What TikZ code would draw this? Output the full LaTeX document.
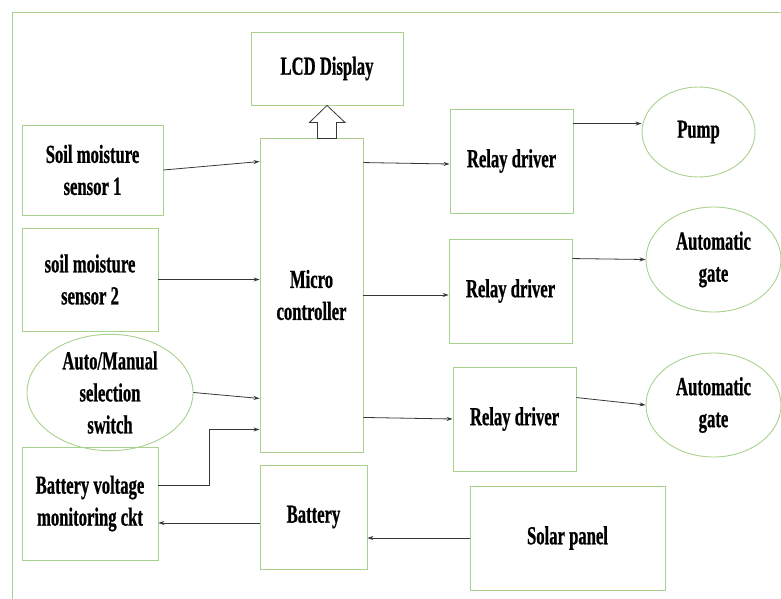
\documentclass[tikz,border=0pt]{standalone}
\usepackage{fontspec}
\newfontfamily\blockfont[FakeStretch=0.64, BoldFeatures={FakeBold=0.8}]{Liberation Serif}
\usetikzlibrary{calc,arrows.meta,shapes.geometric}
\definecolor{boxgreen}{RGB}{169,209,142}
\definecolor{linkgray}{RGB}{55,55,55}
\tikzset{
  blk/.style={draw=boxgreen, line width=0.9pt, inner sep=0pt, align=center,
    font=\blockfont\bfseries\fontsize{26}{32}\selectfont},
  oval/.style={blk, ellipse},
  link/.style={draw=linkgray, line width=0.8pt, -{Stealth[length=6pt,width=4pt]}},
}
\begin{document}
\begin{tikzpicture}[x=1pt,y=-1pt]
        \useasboundingbox (0,0) rectangle (781,599);
        \draw[boxgreen, line width=0.9pt] (12,599) -- (12,12) -- (781,12);   % frame

        % blocks
        \node[blk, minimum width=152pt, minimum height=73pt] (lcd) at (327,68.5) {LCD Display};
        \node[blk, minimum width=103pt, minimum height=314pt] (mc) at (311.5,295) {Micro\\controller};
        \node[blk, minimum width=141pt, minimum height=90pt] (s1) at (92.5,170) {Soil moisture\\sensor 1};
        \node[blk, minimum width=136pt, minimum height=103pt] (s2) at (90,279.5) {soil moisture\\sensor 2};
        \node[oval, minimum width=166pt, minimum height=101pt] (am) at (110,392.5) {Auto/Manual\\selection\\switch};
        \node[blk, minimum width=136pt, minimum height=113pt] (bvm) at (90,503.5) {Battery voltage\\monitoring ckt};
        \node[blk, minimum width=107pt, minimum height=104pt] (bat) at (313.5,517) {Battery};
        \node[blk, minimum width=195pt, minimum height=104pt] (sol) at (567.5,538) {Solar panel};
        \node[blk, minimum width=123pt, minimum height=104pt] (rd1) at (511.5,161) {Relay driver};
        \node[blk, minimum width=123pt, minimum height=104pt] (rd2) at (510.5,291) {Relay driver};
        \node[blk, minimum width=123pt, minimum height=104pt] (rd3) at (514.5,419) {Relay driver};
        \node[oval, minimum width=113pt, minimum height=90pt] (pump) at (698.5,132) {Pump};
        \node[oval, minimum width=135pt, minimum height=105pt] (gate1) at (713.5,259.5) {Automatic\\gate};
        \node[oval, minimum width=135pt, minimum height=104pt] (gate2) at (713.5,405) {Automatic\\gate};

        % hollow arrow to the display
        \draw[linkgray, line width=0.8pt, fill=white]
          ($(lcd.south)+(-9.5,33)$) -- ++(0,-16) -- ++(-8,0) -- (lcd.south)
          -- ++(18,17) -- ++(-8.5,0) -- ++(0,16) -- cycle;

        % inputs
        \draw[link] (s1.east) -- ($(mc.north west)+(0,24)$);
        \draw[link] (s2.east) -- (mc.west |- s2.east);
        \draw[link] (am.east) -- ($(mc.south west)+(0,-54)$);
        \draw[link] ($(bvm.north east)+(0,39)$) -- ++(51,0) |- ($(mc.south west)+(0,-23)$);
        \draw[link] ($(bat.west)+(0,6)$) -- (bvm.east |- {$(bat.west)+(0,6)$});
        \draw[link] (sol.west) -- (bat.east |- sol.west);

        % outputs
        \draw[link] ($(mc.north east)+(0,25)$) -- ($(rd1.west)+(0,3)$);
        \draw[link] (mc.east) -- (rd2.west |- mc.east);
        \draw[link] ($(mc.south east)+(0,-35)$) -- (rd3.west);
        \draw[link] ($(rd1.north east)+(0,15)$) -- (pump.west |- {$(rd1.north east)+(0,15)$});
        \draw[link] ($(rd2.north east)+(0,20)$) -- (gate1.west);
        \draw[link] ($(rd3.north east)+(0,31)$) -- (gate2.west);
\end{tikzpicture}
\end{document}
